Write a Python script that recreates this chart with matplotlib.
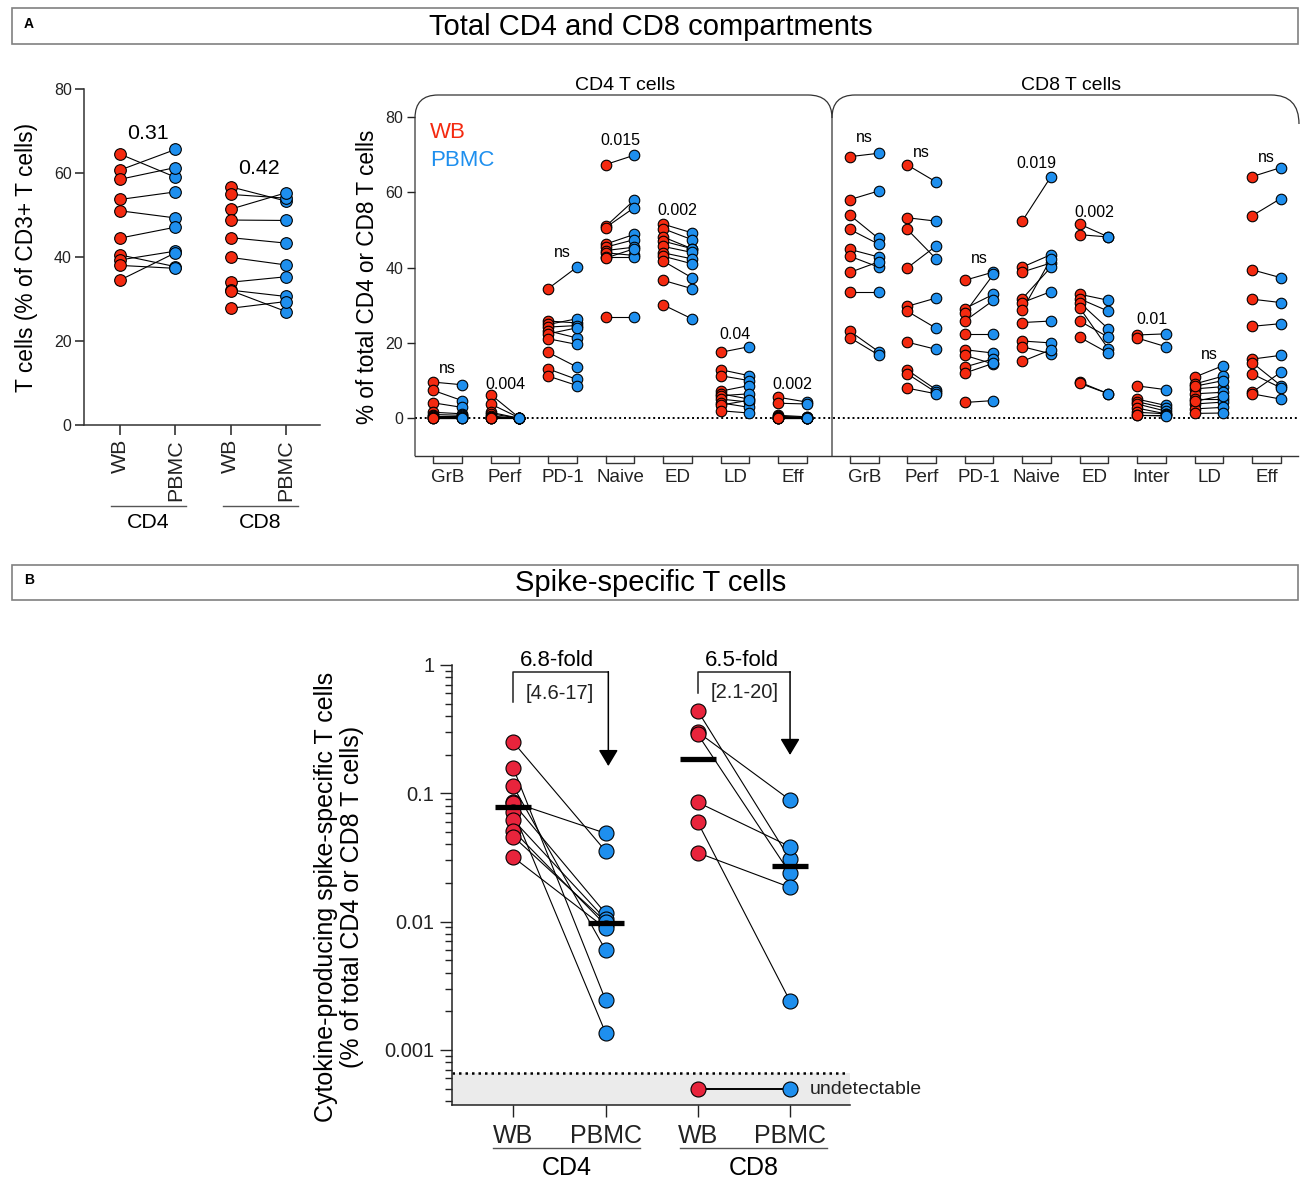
import numpy as np
import matplotlib.pyplot as plt
from matplotlib.path import Path
from matplotlib.patches import PathPatch, Rectangle
from matplotlib.ticker import FixedLocator, FuncFormatter, LogLocator, NullFormatter

plt.rcParams['font.family'] = ['Liberation Sans', 'DejaVu Sans']

W, H = 1301, 1180
fig = plt.figure(figsize=(W / 100, H / 100), dpi=100)

RED = '#F42A10'
BLUE = '#1E8FEE'
RED_B = '#E8243C'

# ---------------- data: panel A, total compartments (% of CD3+) ----------------
tot_groups = ['CD4', 'CD8']
tot_cd4_wb = [64.5, 60.7, 58.5, 53.7, 51.0, 44.5, 40.5, 39.3, 38.0, 34.5]
tot_cd4_pbmc = [59.0, 65.6, 61.3, 55.5, 49.3, 47.1, 37.7, 41.4, 37.3, 41.0]
tot_cd8_wb = [56.7, 54.9, 51.4, 48.8, 44.6, 39.9, 34.0, 32.1, 32.0, 27.8]
tot_cd8_pbmc = [53.3, 54.0, 55.3, 48.7, 43.3, 38.1, 35.3, 30.6, 27.0, 29.4]
tot_p = ['0.31', '0.42']
tot_p_y = [68.1, 59.8]

# ---------------- data: panel A, subsets (% of total CD4 or CD8) ----------------
cd4_subsets = ['GrB', 'Perf', 'PD-1', 'Naive', 'ED', 'LD', 'Eff']
cd4_wb = [
    [9.6, 7.4, 4.1, 1.6, 1.0, 0.5, 0.3, 0.2, 0.1, 0.0],
    [6.3, 3.8, 1.6, 1.2, 0.6, 0.3, 0.2, 0.1, 0.0, 0.0],
    [34.4, 25.8, 24.9, 24.2, 23.2, 22.4, 21.1, 17.5, 13.1, 11.2],
    [67.3, 50.9, 50.6, 46.2, 45.4, 44.5, 43.9, 42.8, 42.5, 26.8],
    [51.5, 50.3, 48.1, 47.0, 45.6, 43.9, 43.0, 41.7, 36.6, 30.1],
    [17.5, 12.9, 11.3, 7.2, 6.5, 6.0, 5.1, 4.1, 3.5, 2.0],
    [5.6, 4.0, 0.8, 0.5, 0.3, 0.2, 0.1, 0.0, 0.0, 0.0],
]
cd4_pbmc = [
    [8.9, 4.7, 2.9, 1.2, 0.8, 0.5, 0.3, 0.2, 0.1, 0.0],
    [0.1, 0.1, 0.0, 0.0, 0.0, 0.0, 0.0, 0.0, 0.0, 0.0],
    [40.1, 25.3, 26.4, 24.6, 21.3, 24.0, 19.6, 13.6, 10.3, 8.7],
    [69.8, 57.9, 55.9, 48.8, 47.4, 45.4, 43.2, 42.8, 45.0, 26.8],
    [49.2, 47.4, 45.0, 45.0, 44.0, 42.3, 41.0, 37.3, 34.4, 26.4],
    [19.0, 11.3, 10.0, 8.7, 5.1, 6.5, 4.3, 2.9, 4.8, 1.4],
    [4.3, 3.8, 0.4, 0.3, 0.2, 0.1, 0.0, 0.0, 0.0, 0.0],
]
cd4_p = ['ns', '0.004', 'ns', '0.015', '0.002', '0.04', '0.002']
cd4_p_y = [12.1, 7.8, 42.7, 72.4, 53.8, 21.1, 7.8]

cd8_subsets = ['GrB', 'Perf', 'PD-1', 'Naive', 'ED', 'Inter', 'LD', 'Eff']
cd8_wb = [
    [69.4, 58.0, 53.9, 50.1, 44.8, 43.0, 38.7, 33.5, 23.1, 21.4],
    [67.2, 53.2, 50.1, 39.9, 29.7, 28.4, 20.2, 12.8, 11.8, 8.0],
    [36.6, 29.1, 27.9, 25.8, 22.4, 18.2, 16.7, 13.6, 12.0, 4.2],
    [52.3, 40.1, 38.8, 31.7, 30.7, 28.6, 25.4, 20.5, 19.0, 15.1],
    [51.5, 48.7, 32.9, 31.7, 30.7, 29.3, 25.8, 21.5, 9.6, 9.3],
    [22.1, 21.3, 8.6, 5.1, 4.4, 3.8, 2.7, 1.6, 1.0, 0.8],
    [10.9, 9.1, 7.8, 6.5, 5.1, 3.8, 2.5, 1.3, 8.5, 4.5],
    [64.1, 53.7, 39.4, 31.6, 24.4, 15.7, 14.8, 11.8, 6.9, 6.5],
]
cd8_pbmc = [
    [70.3, 60.3, 47.7, 46.2, 42.8, 40.1, 41.5, 33.5, 17.7, 16.8],
    [62.7, 52.3, 42.3, 45.7, 31.9, 23.9, 18.3, 7.6, 6.9, 6.5],
    [38.8, 32.9, 38.2, 31.3, 22.4, 17.3, 14.4, 15.8, 14.6, 4.7],
    [64.1, 43.4, 41.2, 40.1, 33.6, 42.3, 25.8, 20.0, 17.1, 18.2],
    [48.1, 48.1, 31.3, 28.4, 23.7, 18.4, 21.5, 17.3, 6.5, 6.5],
    [22.4, 19.0, 7.6, 3.4, 2.7, 1.9, 1.2, 1.2, 1.0, 0.6],
    [14.0, 11.2, 8.4, 6.9, 5.1, 4.3, 2.9, 1.4, 10.0, 6.0],
    [66.5, 58.3, 37.3, 30.7, 25.1, 16.7, 8.7, 8.1, 12.2, 5.1],
]
cd8_p = ['ns', 'ns', 'ns', '0.019', '0.002', '0.01', 'ns', 'ns']
cd8_p_y = [73.2, 69.2, 41.1, 66.3, 53.5, 25.1, 15.8, 67.9]

# ---------------- data: panel B, spike-specific (% of total) ----------------
spk_cd4_wb = [0.25, 0.157, 0.113, 0.085, 0.0836, 0.072, 0.062, 0.051, 0.046, 0.0317]
spk_cd4_pbmc = [0.0355, 0.00245, 0.0060, 0.0488, 0.0116, 0.00136, 0.0104, 0.0094, 0.0100, 0.00887]
spk_cd8_wb = [0.438, 0.30, 0.288, 0.085, 0.0594, 0.0344]
spk_cd8_pbmc = [0.0306, 0.0887, 0.0238, 0.0384, 0.0024, 0.0185]
undetect_level = 4.93e-4
detect_limit = 6.57e-4
fold_text = ['6.8-fold', '6.5-fold']
fold_ci = ['[4.6-17]', '[2.1-20]']


def px_axes(x0, y0, x1, y1):
    return fig.add_axes([x0 / W, 1 - y1 / H, (x1 - x0) / W, (y1 - y0) / H])


def paired(ax, xa, xb, a_vals, b_vals, ca, cb, ms, lw=0.8):
    for a, b in zip(a_vals, b_vals):
        ax.plot([xa, xb], [a, b], color='k', lw=lw, zorder=2, clip_on=False)
    ax.plot([xa] * len(a_vals), a_vals, 'o', ms=ms, mfc=ca, mec='k', mew=0.8,
            zorder=3, clip_on=False)
    ax.plot([xb] * len(b_vals), b_vals, 'o', ms=ms, mfc=cb, mec='k', mew=0.8,
            zorder=3, clip_on=False)


# ================= panel A left: totals =================
ax1 = px_axes(84, 89, 320, 425)
paired(ax1, 0, 1, tot_cd4_wb, tot_cd4_pbmc, RED, BLUE, 8.4)
paired(ax1, 2, 3, tot_cd8_wb, tot_cd8_pbmc, RED, BLUE, 8.4)
ax1.set_xlim(-0.65, 3.61)
ax1.set_ylim(0, 80)
ax1.set_yticks([0, 20, 40, 60, 80])
ax1.set_xticks([0, 1, 2, 3])
ax1.set_xticklabels(['WB', 'PBMC', 'WB', 'PBMC'], rotation=90, fontsize=15.4)
ax1.tick_params(axis='y', labelsize=11.5, length=6.5, width=1.1, pad=2.4, colors='#222')
ax1.tick_params(axis='x', length=7, width=1.1, pad=3, colors='#222')
for s in ['top', 'right']:
    ax1.spines[s].set_visible(False)
for s in ['left', 'bottom']:
    ax1.spines[s].set_linewidth(1.1)
    ax1.spines[s].set_color('#333')
for i, (t, y) in enumerate(zip(tot_p, tot_p_y)):
    ax1.text(2 * i + 0.5, y, t, ha='center', va='baseline', fontsize=15.4)

# ================= panel A right: subsets =================
ax2 = px_axes(415, 116.7, 1298, 456)
x4 = [2 * i for i in range(len(cd4_subsets))]
x8 = [14.5 + 2 * j for j in range(len(cd8_subsets))]
for i, xw in enumerate(x4):
    paired(ax2, xw, xw + 1, cd4_wb[i], cd4_pbmc[i], RED, BLUE, 7.6)
    ax2.text(xw + 0.5, cd4_p_y[i], cd4_p[i], ha='center', va='baseline', fontsize=11.5)
for j, xw in enumerate(x8):
    paired(ax2, xw, xw + 1, cd8_wb[j], cd8_pbmc[j], RED, BLUE, 7.6)
    ax2.text(xw + 0.5, cd8_p_y[j], cd8_p[j], ha='center', va='baseline', fontsize=11.5)
ax2.axhline(0, ls=(0, (1, 1.5)), lw=1.4, color='k', zorder=1)
ax2.set_xlim(-0.637, 30.1)
ax2.set_ylim(-10, 80)
ax2.set_yticks([0, 20, 40, 60, 80])
centers = [x + 0.5 for x in x4] + [x + 0.5 for x in x8]
ax2.set_xticks(centers)
ax2.set_xticklabels(cd4_subsets + cd8_subsets, fontsize=13.5)
ax2.tick_params(axis='x', length=0, pad=9, colors='#222')
ax2.tick_params(axis='y', labelsize=11.5, length=6, width=1.0, pad=2.5, colors='#222')
for s in ['top', 'right', 'left']:
    ax2.spines[s].set_visible(False)
ax2.spines['bottom'].set_linewidth(1.0)
ax2.spines['bottom'].set_color('#333')
ax2.patch.set_visible(False)
trans = ax2.get_xaxis_transform()
for xw in x4 + x8:
    ax2.plot([xw, xw, xw + 1, xw + 1], [0, -0.021, -0.021, 0], transform=trans,
             color='#333', lw=1.0, clip_on=False)

# ================= panel B =================
ax3 = px_axes(451.7, 665, 850, 1105)
ax3.set_yscale('log')
ymin = 3.72e-4
ax3.axhspan(ymin, detect_limit, color='#ebebeb', zorder=0, lw=0)
ax3.axhline(detect_limit, xmax=0.99, ls=(0, (1, 1.6)), lw=1.8, color='k', zorder=1)
paired(ax3, 0, 1, spk_cd4_wb, spk_cd4_pbmc, RED_B, BLUE, 10.8)
paired(ax3, 2, 3, spk_cd8_wb, spk_cd8_pbmc, RED_B, BLUE, 10.8)
paired(ax3, 2, 3, [undetect_level], [undetect_level], RED_B, BLUE, 10.8, lw=1.4)
for x, vals in zip([0, 1, 2, 3], [spk_cd4_wb, spk_cd4_pbmc, spk_cd8_wb, spk_cd8_pbmc]):
    m = np.median(vals)
    ax3.plot([x - 0.195, x + 0.195], [m, m], color='k', lw=3.8, solid_capstyle='butt', zorder=4)
ax3.text(3.218, undetect_level, 'undetectable', ha='left', va='center', fontsize=14,
         color='#222')

# fold-change brackets with arrows
brackets = [(0, 1.03, 0.518, 0.163), (2, 3.0, 0.608, 0.199)]
for (xl, xr, yl, ytip), ft, ci in zip(brackets, fold_text, fold_ci):
    ytop = 0.887
    ax3.plot([xl, xl, xr], [yl, ytop, ytop], color='#222', lw=1.1, clip_on=False)
    ax3.annotate('', xy=(xr, ytip), xytext=(xr, ytop),
                 arrowprops=dict(arrowstyle='-|>,head_length=0.5,head_width=0.3',
                                 mutation_scale=20, lw=1.1, color='k',
                                 shrinkA=0, shrinkB=0), annotation_clip=False)
    ax3.text(xl + 0.474, 1.08, ft, ha='center', va='center', fontsize=16)
    ax3.text(xl + 0.506, (0.605 if xl == 0 else 0.608), ci, ha='center', va='center',
             fontsize=14.5, color='#222')

ax3.set_ylim(ymin, 1)
ax3.set_xlim(-0.668, 3.65)
ax3.yaxis.set_major_locator(FixedLocator([0.001, 0.01, 0.1, 1]))
ax3.yaxis.set_major_formatter(FuncFormatter(lambda v, p: '{:g}'.format(v)))
ax3.yaxis.set_minor_locator(LogLocator(base=10, subs=np.arange(2, 10)))
ax3.yaxis.set_minor_formatter(NullFormatter())
ax3.set_xticks([0, 1, 2, 3])
ax3.set_xticklabels(['WB', 'PBMC', 'WB', 'PBMC'], fontsize=18)
ax3.tick_params(axis='y', which='major', labelsize=14.5, length=8.5, width=1.0, pad=4,
                colors='#222')
ax3.tick_params(axis='y', which='minor', length=5, width=1.0, colors='#222')
ax3.tick_params(axis='x', length=8.4, width=1.0, pad=5, colors='#222')
for s in ['top', 'right']:
    ax3.spines[s].set_visible(False)
for s in ['left', 'bottom']:
    ax3.spines[s].set_linewidth(1.1)
    ax3.spines[s].set_color('#222')
ax3.patch.set_visible(False)

# ================= overlay for frames and free text (pixel coordinates) =================
ov = fig.add_axes([0, 0, 1, 1])
ov.set_xlim(0, W)
ov.set_ylim(H, 0)
ov.axis('off')

# header boxes
for (y0, y1, lab, title, ty) in [(8, 44, 'A', 'Total CD4 and CD8 compartments', 27),
                                  (565, 600, 'B', 'Spike-specific T cells', 583)]:
    ov.add_patch(Rectangle((12, y0), 1286, y1 - y0, fill=False, ec='#808080', lw=1.2))
    ov.text(29, (y0 + y1) / 2 - 2, lab, ha='center', va='center', fontsize=10,
            fontweight='bold')
    ov.text(651, ty, title, ha='center', va='center', fontsize=21)

# rounded frames of the subset panel
C = Path.CURVE3
verts = [(415, 456), (415, 118), (415, 95), (438, 95), (808, 95), (832, 95), (832, 118)]
codes = [Path.MOVETO, Path.LINETO, C, C, Path.LINETO, C, C]
ov.add_patch(PathPatch(Path(verts, codes), fill=False, ec='#333', lw=0.9))
verts = [(832, 456), (832, 118), (832, 95), (855, 95), (1271, 95), (1299, 95), (1299, 124)]
ov.add_patch(PathPatch(Path(verts, codes), fill=False, ec='#333', lw=0.9))
ov.text(625, 86, 'CD4 T cells', ha='center', va='center', fontsize=14)
ov.text(1071, 86, 'CD8 T cells', ha='center', va='center', fontsize=14)
ov.text(430, 133, 'WB', ha='left', va='center', fontsize=16, color=RED)
ov.text(430, 160, 'PBMC', ha='left', va='center', fontsize=16, color=BLUE)

# axis titles
ov.text(27, 257, 'T cells (% of CD3+ T cells)', rotation=90, ha='center', va='center',
        fontsize=16.4)
ov.text(368, 277, '% of total CD4 or CD8 T cells', rotation=90, ha='center', va='center',
        fontsize=16.3)
ov.text(339, 897, 'Cytokine-producing spike-specific T cells\n(% of total CD4 or CD8 T cells)',
        rotation=90, ha='center', va='center', fontsize=18, linespacing=1.1,
        multialignment='center')

# group underlines
for x0, x1, lab, yl, yt, fs in [(111, 186, 'CD4', 506, 522, 15.4),
                                (223, 298, 'CD8', 506, 522, 15.4),
                                (493, 640, 'CD4', 1148, 1168, 18),
                                (680, 827, 'CD8', 1148, 1168, 18)]:
    ov.plot([x0, x1], [yl, yl], color='#555', lw=1.0)
    ov.text((x0 + x1) / 2, yt, lab, ha='center', va='center', fontsize=fs)

fig.savefig('out.png', dpi=100)
